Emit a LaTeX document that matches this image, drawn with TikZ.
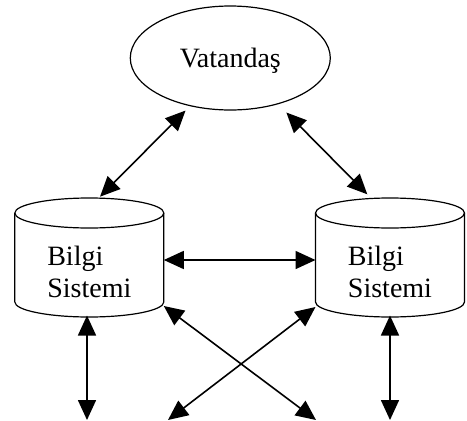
\documentclass[tikz,border=0pt]{standalone}
\usepackage{fontspec}
\setmainfont{Liberation Serif}
\usetikzlibrary{arrows.meta,shapes.geometric}
\tikzset{font=\fontsize{28}{32}\selectfont}
\tikzset{cift/.style={{Triangle[length=20pt,width=18pt]}-{Triangle[length=20pt,width=18pt]},line width=1.6pt}}
\tikzset{kutu/.style={minimum width=149pt,minimum height=119pt,inner sep=0pt,outer sep=0pt}}
\tikzset{yazi/.style={align=left,inner sep=0pt}}

\begin{document}
\begin{tikzpicture}[x=1pt,y=-1pt]
  \useasboundingbox (0,0) rectangle (467,421);
  \node[ellipse,draw,line width=1.2pt,minimum width=200pt,minimum height=104pt,text depth=0pt,inner sep=0pt] (vat) at (230.3,58) {Vatandaş};
  \node[kutu] (bs1) at (89.3,257.5) {};
  \node[kutu] (bs2) at (390,257.5) {};
  \foreach \n in {bs1,bs2}{
    \draw[line width=1.2pt] ([yshift=-15pt]\n.north west) -- ([yshift=15pt]\n.south west)
      arc[start angle=180,end angle=360,x radius=74.5pt,y radius=15pt]
      -- ([yshift=-15pt]\n.north east);
    \draw[line width=1.2pt] ([yshift=-15pt]\n.north) ellipse [x radius=74.5pt,y radius=15pt];
  };
  \node[yazi] (bs1y) at ([yshift=-14pt]bs1.center) {Bilgi\\Sistemi};
  \node[yazi] (bs2y) at ([yshift=-14pt]bs2.center) {Bilgi\\Sistemi};
  \coordinate (alt1) at (87,420);
  \coordinate (alt2) at (168,420);
  \coordinate (alt3) at (316,420);
  \coordinate (alt4) at (390,420);
  \draw[cift,shorten <=6.2pt] (vat.230) -- ([xshift=10.7pt,yshift=1.3pt]bs1.north);
  \draw[cift,shorten <=11.6pt] (vat.316) -- ([xshift=-22.7pt,yshift=3.7pt]bs2.north);
  \draw[cift] ([yshift=-2.5pt]bs1.east) -- ([yshift=-2.5pt]bs2.west);
  \draw[cift] ([yshift=11pt]bs1.south east) -- (alt3);
  \draw[cift] ([yshift=10pt]bs2.south west) -- (alt2);
  \draw[cift] ([xshift=-2.3pt,yshift=1.5pt]bs1.south) -- (alt1);
  \draw[cift] ([yshift=1.5pt]bs2.south) -- (alt4);
\end{tikzpicture}
\end{document}
